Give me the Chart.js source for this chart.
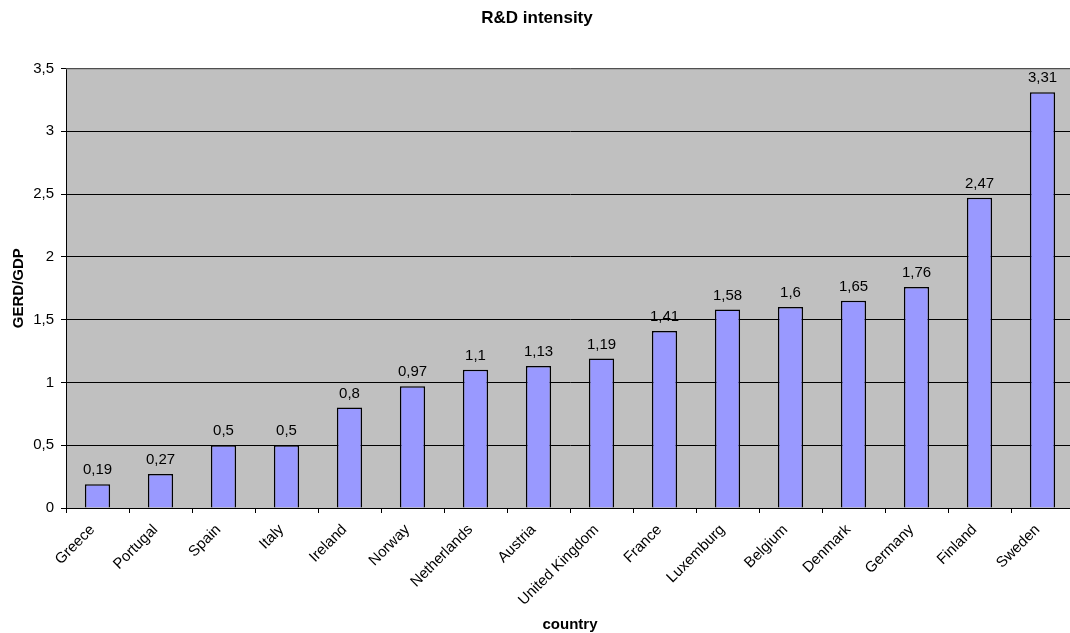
<!DOCTYPE html>
<html>
<head>
<meta charset="utf-8">
<title>R&amp;D intensity</title>
<script src="https://cdn.jsdelivr.net/npm/chart.js@4.4.0/dist/chart.umd.min.js"></script>
<style>
  html, body { margin: 0; padding: 0; background: #fff; overflow: hidden; }
  #wrap { width: 1070px; height: 633px; overflow: hidden; }
  #wrap canvas { display: block; }
</style>
</head>
<body>
<div id="wrap"><canvas id="rdChart" width="1076" height="636"></canvas></div>
<script>
const countries = ["Greece", "Portugal", "Spain", "Italy", "Ireland", "Norway", "Netherlands", "Austria",
    "United Kingdom", "France", "Luxemburg", "Belgium", "Denmark", "Germany", "Finland", "Sweden"];
const gerdGdp = [0.19, 0.27, 0.5, 0.5, 0.8, 0.97, 1.1, 1.13, 1.19, 1.41, 1.58, 1.6, 1.65, 1.76, 2.47, 3.31];
const yTicks = [0, 0.5, 1, 1.5, 2, 2.5, 3, 3.5];

const FONT = "'Liberation Sans', Arial, sans-serif";

function decComma(v) {
    return String(v).replace('.', ',');
}

// grey plot background and frame
const plotBackground = {
    id: 'plotBackground',
    beforeDraw(chart) {
        const { ctx, chartArea: a } = chart;
        ctx.save();
        ctx.fillStyle = '#c0c0c0';
        ctx.fillRect(a.left, a.top, a.right - a.left, a.bottom - a.top);
        ctx.restore();
    },
    afterDatasetsDraw(chart) {
        const { ctx, chartArea: a } = chart;
        ctx.save();
        ctx.strokeStyle = '#808080';
        ctx.lineWidth = 1;
        ctx.beginPath();
        ctx.moveTo(a.left, a.top + 0.5);
        ctx.lineTo(a.right, a.top + 0.5);
        ctx.stroke();
        ctx.restore();
    }
};

// value labels above the bars
const valueLabels = {
    id: 'valueLabels',
    afterDatasetsDraw(chart) {
        const { ctx } = chart;
        const meta = chart.getDatasetMeta(0);
        ctx.save();
        ctx.fillStyle = '#000';
        ctx.font = '15px ' + FONT;
        ctx.textAlign = 'center';
        ctx.textBaseline = 'alphabetic';
        meta.data.forEach((bar, i) => {
            ctx.fillText(decComma(gerdGdp[i]), bar.x, bar.y - 10);
        });
        ctx.restore();
    }
};

new Chart(document.getElementById('rdChart'), {
    type: 'bar',
    data: {
        labels: countries,
        datasets: [{
            data: gerdGdp,
            backgroundColor: '#9999ff',
            borderColor: '#000000',
            borderWidth: 1.5,
            barPercentage: 0.4,
            categoryPercentage: 1
        }]
    },
    options: {
        responsive: false,
        animation: false,
        layout: { padding: { left: 0, right: 2, top: 0, bottom: 0 } },
        plugins: {
            legend: { display: false },
            tooltip: { enabled: false },
            title: {
                display: true,
                text: 'R&D intensity',
                color: '#000',
                font: { family: FONT, size: 17, weight: 'bold' },
                padding: { top: 8, bottom: 40 }
            }
        },
        scales: {
            x: {
                grid: {
                    offset: true,
                    drawOnChartArea: false,
                    drawTicks: true,
                    tickLength: 5,
                    color: '#000'
                },
                border: { color: '#000', width: 1 },
                ticks: {
                    color: '#000',
                    font: { family: FONT, size: 15 },
                    minRotation: 45,
                    maxRotation: 45,
                    autoSkip: false,
                    padding: 8,
                    labelOffset: -5
                },
                title: {
                    display: true,
                    text: 'country',
                    color: '#000',
                    font: { family: FONT, size: 15, weight: 'bold' },
                    padding: { top: 0, bottom: 2 }
                },
                afterFit(scale) { scale.height = 128; }
            },
            y: {
                min: 0,
                max: 3.5,
                afterBuildTicks(scale) {
                    scale.ticks = yTicks.map(v => ({ value: v }));
                },
                grid: {
                    color: '#000',
                    lineWidth: 1,
                    tickLength: 5
                },
                border: { color: '#000', width: 1 },
                ticks: {
                    color: '#000',
                    font: { family: FONT, size: 15 },
                    padding: 7,
                    callback: v => decComma(v)
                },
                title: {
                    display: true,
                    text: 'GERD/GDP',
                    color: '#000',
                    font: { family: FONT, size: 15, weight: 'bold' },
                    padding: { top: 10, bottom: 4 }
                },
                afterFit(scale) { scale.width = 66; }
            }
        }
    },
    plugins: [plotBackground, valueLabels]
});
</script>
</body>
</html>
